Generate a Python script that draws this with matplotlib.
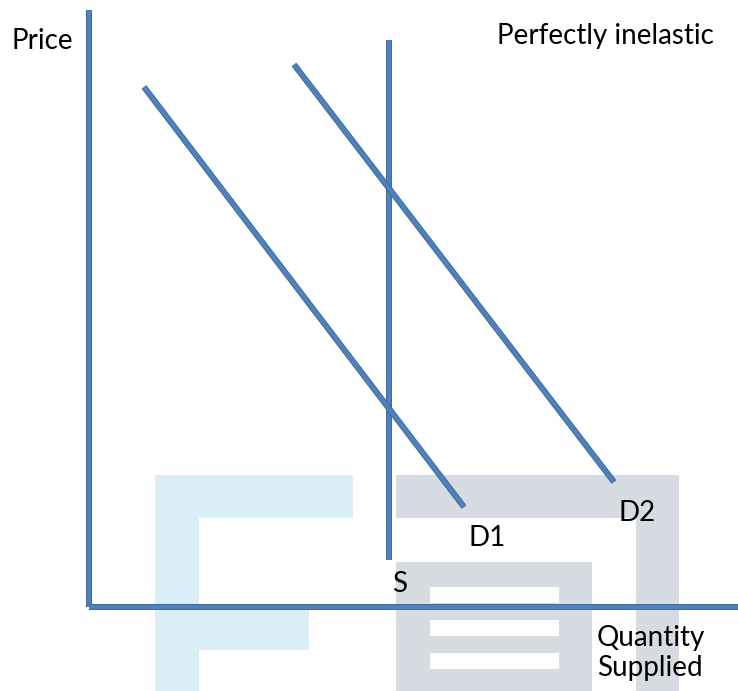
import matplotlib.pyplot as plt
import matplotlib.patheffects as pe
from matplotlib.patches import Rectangle

# curve endpoints (quantity, price)
s_q = [6.0, 6.0]
s_p = [0.95, 11.35]
d1_q = [1.1, 7.5]
d1_p = [10.4, 2.0]
d2_q = [4.1, 10.5]
d2_p = [10.85, 2.5]
axis_top = 11.95
axis_right = 13.0

labels = ['S', 'D1', 'D2']

plt.rcParams['font.family'] = ['Lato', 'DejaVu Sans']

fig = plt.figure(figsize=(7.38, 6.91), dpi=100)
ax = fig.add_axes([0, 0, 1, 1])
ax.set_xlim(-1.78, 12.98)
ax.set_ylim(-1.68, 12.14)
ax.axis('off')

# watermark in background
blue_wm = '#d9eef6'
grey_wm = '#d6dce1'
for x0, y0, w, h, c in [
    (1.32, -1.68, 0.88, 4.32, blue_wm),
    (1.32, 1.78, 3.96, 0.86, blue_wm),
    (1.32, -0.86, 3.08, 0.86, blue_wm),
    (6.14, 1.78, 5.66, 0.86, grey_wm),
    (10.94, -1.68, 0.86, 4.32, grey_wm),
    (6.14, -1.68, 3.92, 2.58, grey_wm),
]:
    ax.add_patch(Rectangle((x0, y0), w, h, color=c, zorder=0, lw=0))
for y0 in [0.08, -0.58, -1.24]:
    ax.add_patch(Rectangle((6.82, y0), 2.58, 0.32, color='white', zorder=0.5, lw=0))

line_kw = dict(color='#4f81bd', lw=3, solid_capstyle='butt', zorder=3,
               path_effects=[pe.Stroke(linewidth=4.3, foreground='#3d6796'), pe.Normal()])

# axes
ax.plot([0, 0], [0, axis_top], **line_kw)
ax.plot([0, axis_right], [0, 0], **line_kw)

# supply and demand
ax.plot(s_q, s_p, **line_kw)
ax.plot(d1_q, d1_p, **line_kw)
ax.plot(d2_q, d2_p, **line_kw)

fs = 20
ax.text(-1.56, 11.32, 'Price', fontsize=fs, va='center', ha='left', zorder=4)
ax.text(8.16, 11.42, 'Perfectly inelastic', fontsize=fs, va='center', ha='left', zorder=4)
ax.text(6.06, 0.46, labels[0], fontsize=fs, va='center', ha='left', zorder=4)
ax.text(7.58, 1.38, labels[1], fontsize=fs, va='center', ha='left', zorder=4)
ax.text(10.58, 1.88, labels[2], fontsize=fs, va='center', ha='left', zorder=4)
ax.text(10.16, -0.92, 'Quantity\nSupplied', fontsize=fs, va='center', ha='left',
        linespacing=1.22, zorder=4)

fig.savefig('out.png', dpi=100)
